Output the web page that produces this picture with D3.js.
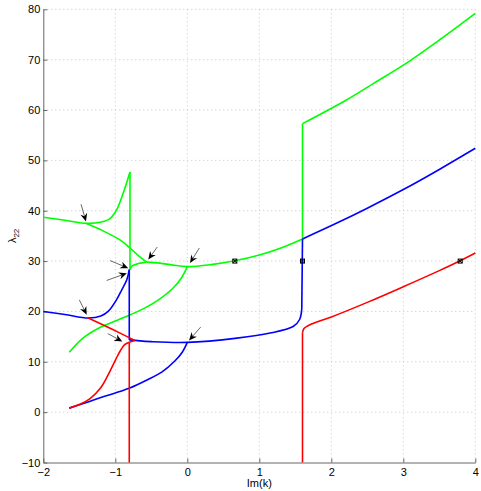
<!DOCTYPE html>
<html>
<head>
<meta charset="utf-8">
<script src="https://cdn.jsdelivr.net/npm/d3@7"></script>
<style>
  body { margin: 0; background: #fff; }
  text { font-family: "Liberation Sans", Arial, sans-serif; }
</style>
</head>
<body>
<svg id="chart" width="481" height="491"></svg>
<script>
// Akser og tick-værdier
var xTicks = [-2, -1, 0, 1, 2, 3, 4];
var yTicks = [-10, 0, 10, 20, 30, 40, 50, 60, 70, 80];

// Grønne grene [Im(k), lambda22]
var greenTop   = [[-2,38.7],[-1.7,38.1],[-1.41,37.5],[-1.21,37.7],[-1.07,38.5],[-0.98,40.2],[-0.89,43.5],[-0.796,47.7]];
var greenSpike = [[-0.796,47.7],[-0.796,28.3]];
var greenHook  = [[-0.796,28.3],[-0.77,29.0],[-0.68,29.5],[-0.565,29.8]];
var greenDiag  = [[-1.41,37.5],[-1.17,36.0],[-0.935,34.2],[-0.796,32.6],[-0.68,31.1],[-0.565,29.8]];
var greenMid   = [[-0.565,29.8],[-0.38,29.6],[-0.2,29.2],[0,28.9],[0.33,29.3],[0.66,30.05],[1.0,31.2],[1.3,32.6],[1.6,34.4]];
var greenJump  = [[1.6,34.4],[1.6,57.3]];
var greenRight = [[1.6,57.3],[2.21,62.0],[2.6,65.4],[3.0,68.9],[3.5,73.9],[4,79.2]];
var greenLow   = [[-1.64,11.9],[-1.44,14.8],[-1.2,16.9],[-1.0,18.1],[-0.8,19.3],[-0.6,20.6],[-0.4,22.3],[-0.2,24.6],[-0.08,26.7],[0,28.9]];

// Blå grene
var blueTop   = [[-2,20.0],[-1.7,19.4],[-1.375,18.7],[-1.2,19.1],[-1.1,20.0],[-0.98,22.4],[-0.91,24.3],[-0.84,26.3],[-0.806,28.3]];
var blueDrop  = [[-0.806,28.3],[-0.806,14.35]];
var blueMid   = [[-0.806,14.35],[-0.73,14.25],[-0.5,14.0],[0,13.85],[0.69,14.7],[1.15,15.7],[1.47,17.0],[1.56,18.4],[1.59,20.5]];
var blueRise  = [[1.59,20.5],[1.6,34.4]];
var blueRight = [[1.6,34.4],[2.07,37.5],[2.5,40.5],[3.0,44.2],[3.5,48.2],[4,52.4]];
var blueLow   = [[-1.64,0.8],[-1.4,1.9],[-1.2,2.9],[-1.0,3.8],[-0.8,4.8],[-0.56,6.4],[-0.35,8.0],[-0.17,10.2],[-0.07,11.9],[0,13.85]];

// Røde grene
var redDiag      = [[-1.375,18.7],[-1.05,16.5],[-0.73,14.25]];
var redLow       = [[-1.64,0.8],[-1.5,1.5],[-1.35,2.7],[-1.2,4.9],[-1.1,7.4],[-1.0,10.3],[-0.93,12.2],[-0.87,13.4],[-0.806,13.9]];
var redLink      = [[-0.806,13.9],[-0.73,14.25]];
var redDrop      = [[-0.806,13.9],[-0.806,-10]];
var redRightDrop = [[1.6,-10],[1.6,15.8]];
var redRight     = [[1.6,15.8],[1.62,16.6],[1.67,17.1],[1.8,17.9],[2.0,18.9],[2.5,21.8],[3.0,24.9],[3.5,28.1],[3.79,30.06],[4,31.6]];

// Markører (x) på lambda = 30
var markerX = [0.66, 1.6, 3.79];
var markerY = [30, 30, 30];

// Pile: hale og spids i datakoordinater
var arrowTail = [[-1.476,41.3],[-1.5,22.3],[-0.417,32.8],[0.167,32.6],[0.186,16.9],[-1.074,30.1],[-1.12,26.15],[-1.105,15.6]];
var arrowHead = [[-1.407,37.86],[-1.397,19.35],[-0.542,30.3],[0.038,29.6],[0.024,14.25],[-0.82,28.6],[-0.84,27.6],[-0.903,14.05]];

var series = [
    { color: "#00ff00", branches: [greenTop, greenSpike, greenHook, greenDiag, greenMid, greenJump, greenRight, greenLow] },
    { color: "#0000ff", branches: [blueTop, blueDrop, blueMid, blueRise, blueRight, blueLow] },
    { color: "#ff0000", branches: [redDiag, redLow, redLink, redDrop, redRightDrop, redRight] }
];

var svg = d3.select("#chart");
var plotLeft = 43.3, plotRight = 475.3, plotTop = 9.3, plotBottom = 462.5;

var x = d3.scaleLinear().domain([-2, 4]).range([plotLeft, plotRight]);
var y = d3.scaleLinear().domain([-10, 80]).range([plotBottom, plotTop]);

// Gitter (prikket)
var grid = svg.append("g");
grid.selectAll(".gx").data(xTicks.slice(1)).enter().append("line")
    .attr("x1", d => x(d)).attr("x2", d => x(d))
    .attr("y1", plotTop).attr("y2", plotBottom)
    .attr("stroke", "#c4c4c4").attr("stroke-width", 1).attr("stroke-dasharray", "1,3");
grid.selectAll(".gy").data(yTicks.slice(1)).enter().append("line")
    .attr("x1", plotLeft).attr("x2", plotRight)
    .attr("y1", d => y(d)).attr("y2", d => y(d))
    .attr("stroke", "#c4c4c4").attr("stroke-width", 1).attr("stroke-dasharray", "1,3");

// Akser
var xAxis = svg.append("g").attr("transform", "translate(0," + plotBottom + ")")
    .call(d3.axisBottom(x).tickValues(xTicks).tickSizeInner(-4).tickSizeOuter(0).tickPadding(6).tickFormat(d3.format("d")));
var yAxis = svg.append("g").attr("transform", "translate(" + plotLeft + ",0)")
    .call(d3.axisLeft(y).tickValues(yTicks).tickSizeInner(-4).tickSizeOuter(0).tickPadding(3).tickFormat(d3.format("d")));
[xAxis, yAxis].forEach(function(a) {
    a.select(".domain").attr("stroke", "#666");
    a.selectAll(".tick line").attr("stroke", "#666");
    a.selectAll(".tick text").attr("fill", "#000").style("font-size", "11px")
        .style("font-family", "'Liberation Sans', Arial, sans-serif");
});

// Kurver
var line = d3.line().x(d => x(d[0])).y(d => y(d[1])).curve(d3.curveCatmullRom.alpha(0.5));
series.forEach(function(s) {
    svg.append("g").selectAll("path").data(s.branches).enter().append("path")
        .attr("d", line)
        .attr("fill", "none")
        .attr("stroke", s.color)
        .attr("stroke-width", 1.6)
        .attr("stroke-linejoin", "round");
});

// Markører
markerX.forEach(function(mx, i) {
    var px = x(mx), py = y(markerY[i]);
    svg.append("rect").attr("x", px - 2).attr("y", py - 2).attr("width", 4).attr("height", 4)
        .attr("fill", "none").attr("stroke", "#000").attr("stroke-width", 1);
    svg.append("path").attr("d", "M" + (px - 2) + "," + (py - 2) + "L" + (px + 2) + "," + (py + 2) +
        "M" + (px - 2) + "," + (py + 2) + "L" + (px + 2) + "," + (py - 2))
        .attr("stroke", "#000").attr("stroke-width", 1);
});

// Pile
arrowTail.forEach(function(t, i) {
    var x0 = x(t[0]), y0 = y(t[1]), x1 = x(arrowHead[i][0]), y1 = y(arrowHead[i][1]);
    var ang = Math.atan2(y1 - y0, x1 - x0);
    var L = 8, W = 3.5, N = 5.5;
    function pt(a, b) { // a langs pilen tilbage, b på tværs
        return [x1 - a * Math.cos(ang) - b * Math.sin(ang), y1 - a * Math.sin(ang) + b * Math.cos(ang)];
    }
    var nb = pt(N, 0);
    svg.append("line").attr("x1", x0).attr("y1", y0).attr("x2", nb[0]).attr("y2", nb[1])
        .attr("stroke", "#444").attr("stroke-width", 0.8);
    svg.append("path")
        .attr("d", "M" + [x1, y1] + "L" + pt(L, W) + "L" + nb + "L" + pt(L, -W) + "Z")
        .attr("fill", "#000");
});

// Aksetitler
svg.append("text").attr("x", (plotLeft + plotRight) / 2).attr("y", 487).attr("text-anchor", "middle")
    .style("font-size", "11px").text("Im(k)");
var yl = svg.append("text").attr("transform", "translate(16," + ((plotTop + plotBottom) / 2) + ") rotate(-90)")
    .attr("text-anchor", "middle").style("font-size", "11px");
yl.append("tspan").text("λ");
yl.append("tspan").attr("dy", 3).style("font-size", "8px").text("22");
</script>
</body>
</html>
